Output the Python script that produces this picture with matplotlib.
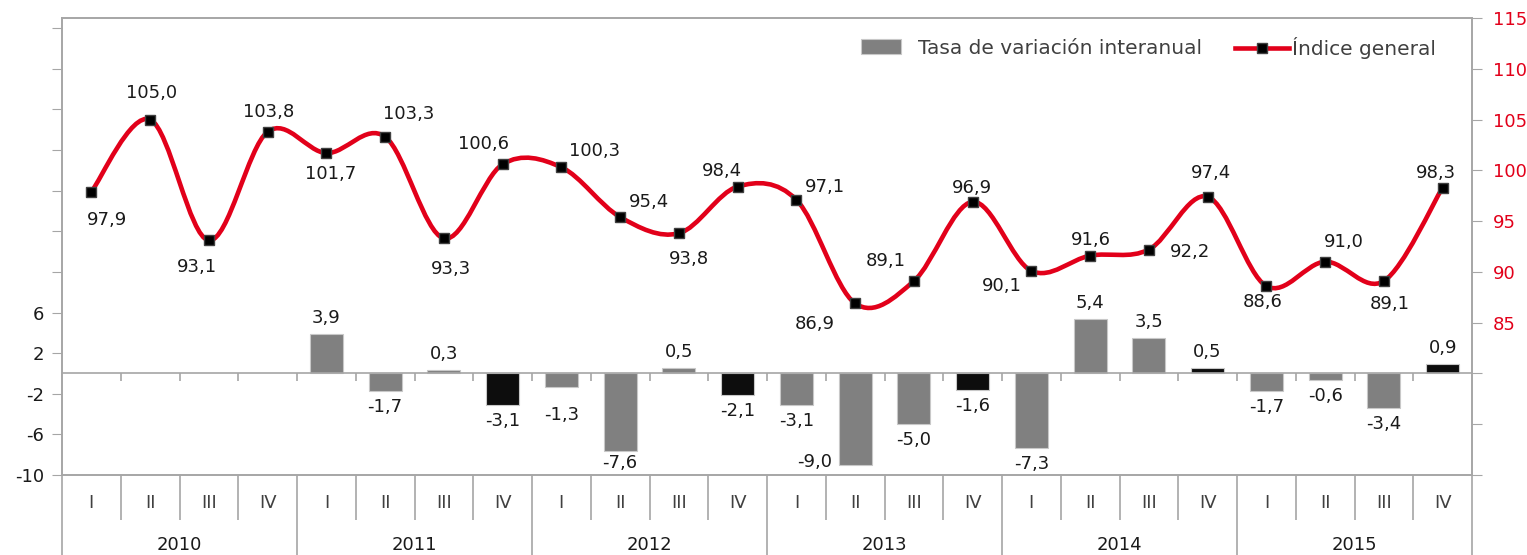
import numpy as np
import matplotlib
matplotlib.use('Agg')
import matplotlib.pyplot as plt
import matplotlib.transforms as mtransforms
from matplotlib.path import Path
from matplotlib.patches import PathPatch, Patch
from matplotlib.lines import Line2D

# Datos
years = ['2010', '2011', '2012', '2013', '2014', '2015']
quarters = ['I', 'II', 'III', 'IV']

# Índice general (eje derecho)
indice = [97.9, 105.0, 93.1, 103.8,
          101.7, 103.3, 93.3, 100.6,
          100.3, 95.4, 93.8, 98.4,
          97.1, 86.9, 89.1, 96.9,
          90.1, 91.6, 92.2, 97.4,
          88.6, 91.0, 89.1, 98.3]

# Tasa de variación interanual (eje izquierdo), sin dato en 2010
tasa = [None, None, None, None,
        3.9, -1.7, 0.3, -3.1,
        -1.3, -7.6, 0.5, -2.1,
        -3.1, -9.0, -5.0, -1.6,
        -7.3, 5.4, 3.5, 0.5,
        -1.7, -0.6, -3.4, 0.9]

# Desplazamiento de las etiquetas del índice (pixeles)
idx_off = [(16, -28), (1, 27), (-12, -27), (1, 20),
           (4, -21), (24, 23), (7, -31), (-19, 20),
           (33, 16), (29, 15), (10, -26), (-16, 16),
           (29, 13), (-40, -21), (-28, 20), (-1, 14),
           (-30, -15), (1, 16), (41, -2), (3, 24),
           (-4, -16), (19, 20), (6, -23), (-7, 15)]

RED = '#E2001A'
GREY = '#808080'
AXC = '#A6A6A6'
TXT = '#1A1A1A'
FS = 13

plt.rcParams['font.family'] = ['DejaVu Sans']


def fmt(v):
    return f'{v:.1f}'.replace('.', ',')


def smooth_path(x, y):
    # curva suavizada al estilo de Excel (Bezier con tangentes de Catmull-Rom)
    pts = np.column_stack([x, y]).astype(float)
    n = len(pts)
    verts = [pts[0]]
    codes = [Path.MOVETO]
    for i in range(n - 1):
        p0 = pts[max(i - 1, 0)]
        p1 = pts[i]
        p2 = pts[i + 1]
        p3 = pts[min(i + 2, n - 1)]
        verts += [p1 + (p2 - p0) / 6, p2 - (p3 - p1) / 6, p2]
        codes += [Path.CURVE4] * 3
    return Path(verts, codes)


x = np.arange(len(indice))

fig = plt.figure(figsize=(15.27, 5.55), dpi=100)
ax = fig.add_axes([62 / 1527, 80 / 555, 1410 / 1527, 457 / 555])
ax2 = ax.twinx()

# Barras
colors = ['#0D0D0D' if i % 4 == 3 else GREY for i in range(len(tasa))]
bx = [i for i, v in enumerate(tasa) if v is not None]
bv = [v for v in tasa if v is not None]
bc = [colors[i] for i in bx]
ax.bar(bx, bv, width=0.56, color=bc, edgecolor='#C8C8C8', linewidth=0.8, zorder=3)

bar_special = {13: (-40, 3), 8: (0, -28), 9: (0, -12)}
for i, v in zip(bx, bv):
    dx, dy = bar_special.get(i, (0, 16 if v >= 0 else -16))
    if v >= 0:
        dy = abs(dy)
    ax.annotate(fmt(v), (i, v), xytext=(dx, dy), textcoords='offset pixels',
                ha='center', va='center', fontsize=FS, color=TXT)

ax.set_xlim(-0.5, len(indice) - 0.5)
ax.set_ylim(-10, 35)
lt = np.arange(-10, 35, 4)
ax.set_yticks(lt)
ax.set_yticklabels([str(t) if t <= 6 else '' for t in lt])
ax.tick_params(axis='y', direction='out', length=7, color=AXC, labelsize=FS,
               labelcolor=TXT, pad=6)
ax.set_xticks([])

# línea cero con marcas
ax.axhline(0, color=AXC, lw=1.2, zorder=4)
ax.vlines(np.arange(0.5, len(indice) - 0.5, 1), -0.7, 0, color=AXC, lw=1.2, zorder=4)

# Índice
ax2.add_patch(PathPatch(smooth_path(x, indice), fill=False, edgecolor=RED,
                        lw=3.3, capstyle='round', zorder=5))
ax2.plot(x, indice, 's', ms=6.5, mfc='black', mec='#404040', mew=1, zorder=6)
for i, v in enumerate(indice):
    dx, dy = idx_off[i]
    ax2.annotate(fmt(v), (i, v), xytext=(dx, dy), textcoords='offset pixels',
                 ha='center', va='center', fontsize=FS, color=TXT)

ax2.set_ylim(70, 115)
rt = np.arange(70, 116, 5)
ax2.set_yticks(rt)
ax2.set_yticklabels([str(t) if t >= 85 else '' for t in rt])
ax2.tick_params(axis='y', direction='out', length=7, color=AXC, labelsize=FS,
                labelcolor=RED, pad=8)

for a in (ax, ax2):
    for s in a.spines.values():
        s.set_color(AXC)
        s.set_linewidth(1.2)

# eje de categorías de dos niveles
trans = mtransforms.blended_transform_factory(ax.transData, ax.transAxes)
qsep = [b for b in np.arange(0.5, len(indice) - 0.5, 1) if (b + 0.5) % 4 != 0]
ysep = [-0.5] + [4 * k - 0.5 for k in range(1, 6)] + [len(indice) - 0.5]
ax.vlines(qsep, -0.098, 0, transform=trans, color=AXC, lw=1.2, clip_on=False)
ax.vlines(ysep, -0.2, 0, transform=trans, color=AXC, lw=1.2, clip_on=False)
for i in range(len(indice)):
    ax.text(i, -0.061, quarters[i % 4], transform=trans, ha='center', va='center',
            fontsize=FS, color='#404040')
for k, yr in enumerate(years):
    ax.text(4 * k + 1.5, -0.153, yr, transform=trans, ha='center', va='center',
            fontsize=FS, color=TXT)

# Leyenda (dos piezas para ajustar el espaciado de cada entrada)
leg_y = 1 - 48 / 555
h_bar = Patch(facecolor=GREY, edgecolor='#C8C8C8', linewidth=0.8)
h_line = Line2D([], [], color=RED, lw=3.3, marker='s', ms=6.5, mfc='black',
                mec='#404040')
leg1 = fig.legend([h_bar], ['Tasa de variación interanual'], loc='center right',
                  bbox_to_anchor=(1202 / 1527, leg_y), frameon=False, fontsize=14.5,
                  handlelength=2.0, handleheight=0.8, handletextpad=0.85,
                  borderpad=0, borderaxespad=0, labelcolor='#404040')
fig.legend([h_line], ['Índice general'], loc='center right',
           bbox_to_anchor=(1436 / 1527, leg_y), frameon=False, fontsize=14.5,
           handlelength=2.7, handletextpad=0.15, borderpad=0, borderaxespad=0,
           labelcolor='#404040')

fig.savefig('out.png', dpi=100)
